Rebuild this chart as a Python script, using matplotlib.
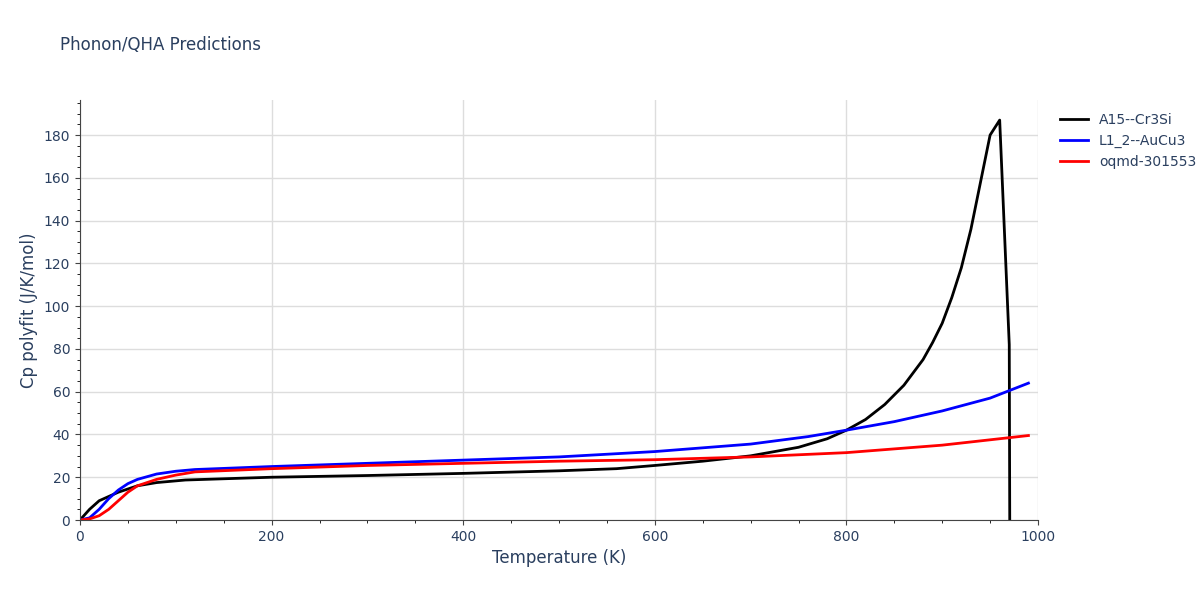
import matplotlib
matplotlib.use("Agg")
import matplotlib.pyplot as plt
from matplotlib.ticker import MultipleLocator

a15_T = [0,10,20,40,60,80,110,200,300,400,500,560,600,650,700,750,780,800,820,840,860,880,890,900,910,920,930,940,950,960,970,970.5]
a15_cp = [0,5,9,13,16,17.5,18.7,20,20.8,21.8,23,24,25.5,27.5,30,34,38,42,47,54,63,75,83,92,104,118,136,158,180,187,82,0]
l12_T = [0,10,20,30,40,50,60,80,100,120,200,300,400,500,600,700,760,800,850,900,950,990]
l12_cp = [0,1,5,10,14,17,19,21.5,22.8,23.6,25,26.5,28,29.5,32,35.5,39,42,46,51,57,64]
oq_T = [0,10,20,30,40,50,60,80,100,120,200,300,400,500,600,700,800,900,950,990]
oq_cp = [0,0.5,2,5,9,13,16,19,21,22.5,24,25.5,26.5,27.5,28.2,29.5,31.5,35,37.5,39.5]

fig = plt.figure(figsize=(12,6), dpi=100)
ax = fig.add_axes([80/1200, 80/600, 958/1200, 420/600])
ax.plot(a15_T, a15_cp, color="black", lw=2, label="A15--Cr3Si")
ax.plot(l12_T, l12_cp, color="blue", lw=2, label="L1_2--AuCu3")
ax.plot(oq_T, oq_cp, color="red", lw=2, label="oqmd-301553")
ax.set_xlim(0,1000)
ax.set_ylim(0,196.4)
ax.set_xticks([0,200,400,600,800,1000])
ax.set_yticks(range(0,181,20))
ax.xaxis.set_minor_locator(MultipleLocator(50))
ax.yaxis.set_minor_locator(MultipleLocator(5))
ax.grid(True, color="#dddddd", lw=1)
ax.set_axisbelow(True)
for s in ["top","right"]:
    ax.spines[s].set_visible(False)
ax.spines["left"].set_color("#444444")
ax.spines["bottom"].set_color("#444444")
ax.tick_params(colors="#444444", labelcolor="#2a3f5f", labelsize=10)
ax.set_xlabel("Temperature (K)", color="#2a3f5f", fontsize=12)
ax.set_ylabel("Cp polyfit (J/K/mol)", color="#2a3f5f", fontsize=12)
fig.text(60/1200, 1-45/600, "Phonon/QHA Predictions", color="#2a3f5f", fontsize=12, va="center")
ax.legend(loc="upper left", bbox_to_anchor=(1.01, 1.0), frameon=False, fontsize=10, labelcolor="#2a3f5f")
fig.savefig("out.png")
